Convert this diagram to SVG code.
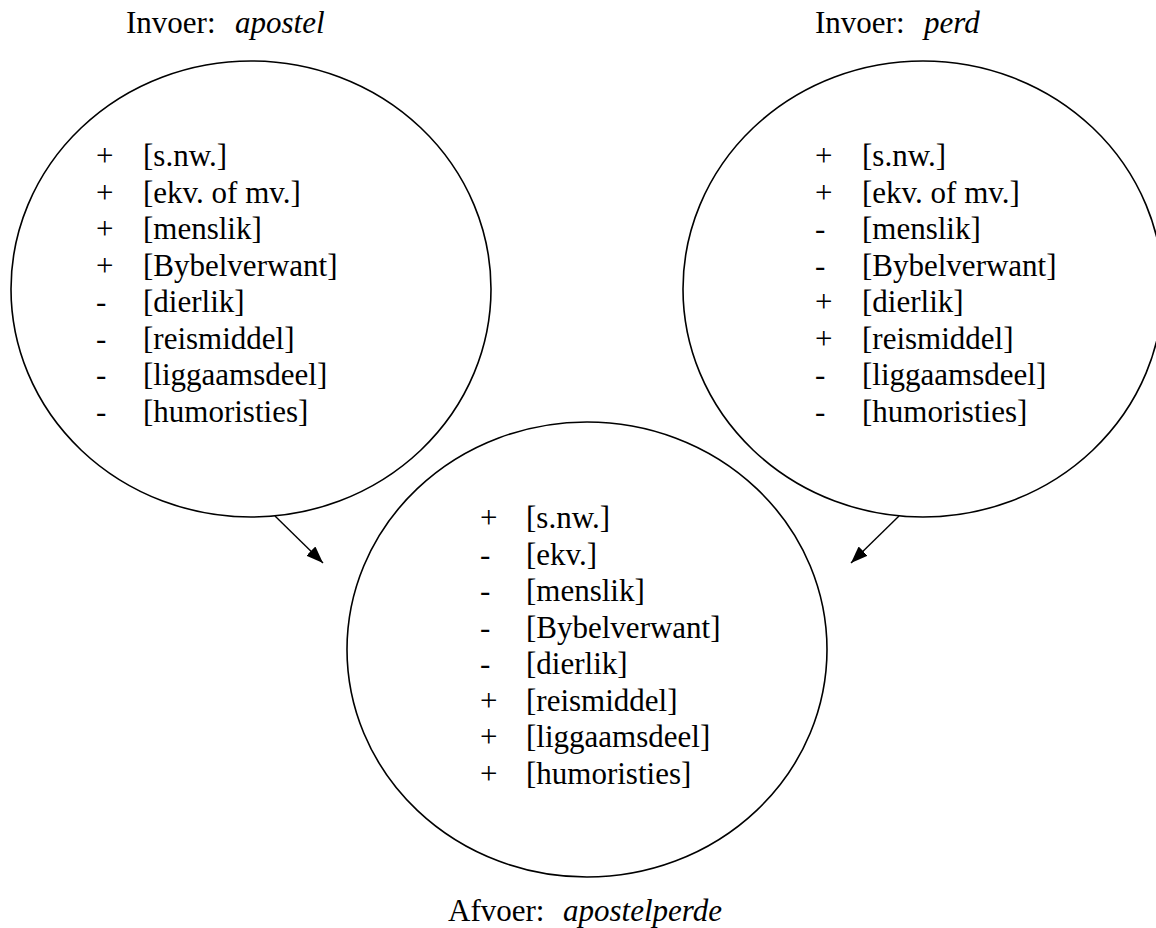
<svg xmlns="http://www.w3.org/2000/svg" width="1156" height="928" viewBox="0 0 1156 928">
  <style>
    .bubble { fill: none; stroke: #000; stroke-width: 1.6; }
    .txt { font-family: "Liberation Serif", "Times New Roman", serif; font-size: 31px; fill: #000; }
    .it { font-style: italic; }
    .link { stroke: #000; stroke-width: 1.4; fill: none; marker-end: url(#head); }
  </style>
  <defs>
    <marker id="head" markerUnits="userSpaceOnUse" markerWidth="17" markerHeight="13" refX="17" refY="6.5" orient="auto">
      <path d="M0,0 L17,6.5 L0,13 z" fill="#000"/>
    </marker>
  </defs>
  <rect width="1156" height="928" fill="#fff"/>

  <!-- input 1: apostel -->
  <g id="input-apostel">
    <text class="txt" x="126" y="33">Invoer:</text>
    <text class="txt it" x="235" y="33">apostel</text>
    <ellipse class="bubble" cx="251" cy="289" rx="240" ry="228"/>
    <g class="txt">
      <text x="96" y="166">+</text><text x="143" y="166">[s.nw.]</text>
      <text x="96" y="202.5">+</text><text x="143" y="202.5">[ekv. of mv.]</text>
      <text x="96" y="239">+</text><text x="143" y="239">[menslik]</text>
      <text x="96" y="275.5">+</text><text x="143" y="275.5">[Bybelverwant]</text>
      <text x="96" y="312">-</text><text x="143" y="312">[dierlik]</text>
      <text x="96" y="348.5">-</text><text x="143" y="348.5">[reismiddel]</text>
      <text x="96" y="385">-</text><text x="143" y="385">[liggaamsdeel]</text>
      <text x="96" y="421.5">-</text><text x="143" y="421.5">[humoristies]</text>
    </g>
  </g>

  <!-- input 2: perd -->
  <g id="input-perd">
    <text class="txt" x="815" y="33">Invoer:</text>
    <text class="txt it" x="924" y="33">perd</text>
    <ellipse class="bubble" cx="923" cy="289" rx="240" ry="228"/>
    <g class="txt">
      <text x="815" y="166">+</text><text x="862" y="166">[s.nw.]</text>
      <text x="815" y="202.5">+</text><text x="862" y="202.5">[ekv. of mv.]</text>
      <text x="815" y="239">-</text><text x="862" y="239">[menslik]</text>
      <text x="815" y="275.5">-</text><text x="862" y="275.5">[Bybelverwant]</text>
      <text x="815" y="312">+</text><text x="862" y="312">[dierlik]</text>
      <text x="815" y="348.5">+</text><text x="862" y="348.5">[reismiddel]</text>
      <text x="815" y="385">-</text><text x="862" y="385">[liggaamsdeel]</text>
      <text x="815" y="421.5">-</text><text x="862" y="421.5">[humoristies]</text>
    </g>
  </g>

  <!-- output: apostelperde -->
  <g id="output-apostelperde">
    <ellipse class="bubble" cx="587" cy="649.5" rx="240" ry="227.5"/>
    <g class="txt">
      <text x="480" y="528">+</text><text x="526" y="528">[s.nw.]</text>
      <text x="480" y="564.5">-</text><text x="526" y="564.5">[ekv.]</text>
      <text x="480" y="601">-</text><text x="526" y="601">[menslik]</text>
      <text x="480" y="637.5">-</text><text x="526" y="637.5">[Bybelverwant]</text>
      <text x="480" y="674">-</text><text x="526" y="674">[dierlik]</text>
      <text x="480" y="710.5">+</text><text x="526" y="710.5">[reismiddel]</text>
      <text x="480" y="747">+</text><text x="526" y="747">[liggaamsdeel]</text>
      <text x="480" y="783.5">+</text><text x="526" y="783.5">[humoristies]</text>
    </g>
    <text class="txt" x="448" y="921">Afvoer:</text>
    <text class="txt it" x="563" y="921">apostelperde</text>
  </g>

  <!-- connectors -->
  <g id="connectors">
    <line class="link" x1="275" y1="516" x2="323" y2="563"/>
    <line class="link" x1="899" y1="516" x2="851" y2="563"/>
  </g>
</svg>
